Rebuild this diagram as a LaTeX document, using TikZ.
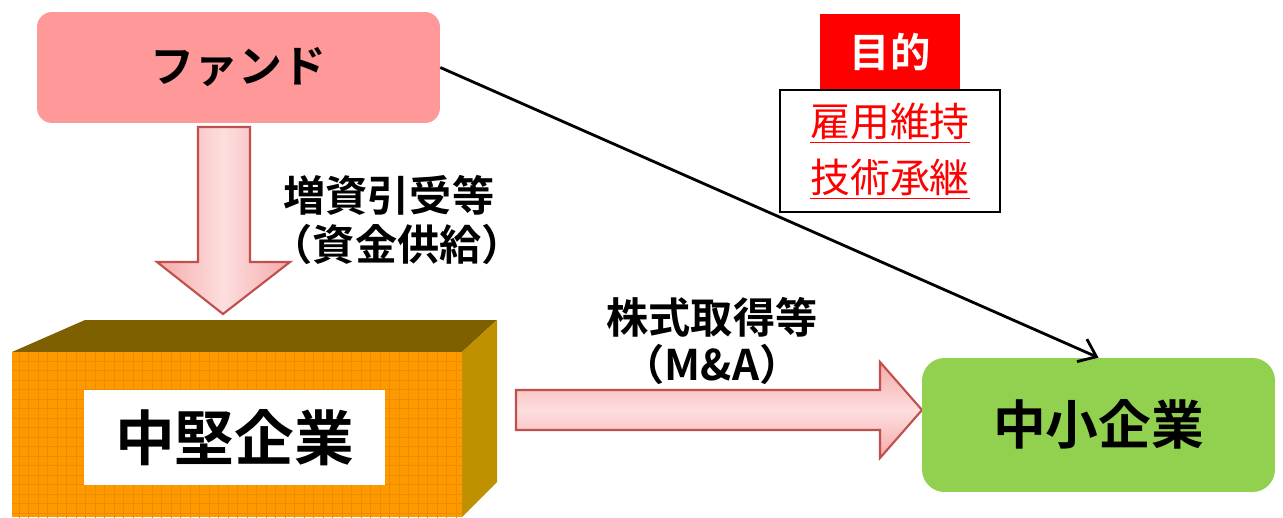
\documentclass[tikz,border=0pt]{standalone}
\usepackage{fontspec}
\setmainfont{Noto Sans CJK JP}[BoldFont={Noto Sans CJK JP Bold}]
\usetikzlibrary{arrows.meta}
\definecolor{fundpink}{RGB}{255,153,153}
\definecolor{arrowpink}{RGB}{246,170,170}
\definecolor{arrowlight}{RGB}{253,222,222}
\definecolor{arrowedge}{RGB}{192,80,77}
\definecolor{boxorange}{RGB}{255,153,0}
\definecolor{gridorange}{RGB}{238,140,0}
\definecolor{boxtop}{RGB}{127,96,0}
\definecolor{boxside}{RGB}{191,144,0}
\definecolor{smegreen}{RGB}{146,208,80}
\definecolor{purred}{RGB}{255,0,0}
\tikzset{
  fs/.style={font=\fontsize{#1}{#1}\selectfont\bfseries},
  blockarrow/.style={draw=arrowedge, line width=1.2pt, line join=miter},
}
\begin{document}
\begin{tikzpicture}[x=0.02cm,y=-0.02cm]
\useasboundingbox (0,0) rectangle (1283,517);
% fund
\node[fill=fundpink, rounded corners=0.3cm, minimum width=8.06cm, minimum height=2.22cm, fs=25] (fund) at (238.5,67.5) {ファンド};
% down arrow
\path[blockarrow, left color=arrowpink, right color=arrowpink, middle color=arrowlight]
  (198,127) -- (250,127) -- (250,262) -- (290,262) -- (223,314) -- (157,262) -- (198,262) -- cycle;
\node[fs=24, anchor=west, align=left, inner sep=0pt, text height=0.8em] (lab1) at (283,256) {増資引受等\\[4pt]\hspace*{-0.3em}（資金供給）};
% 3D box
\fill[boxtop] (12,352) -- (85,320) -- (497,320) -- (462,352) -- cycle;
\fill[boxside] (462,352) -- (497,320) -- (497,482) -- (462,517) -- cycle;
\fill[boxorange] (12,352) rectangle (462,517);
\begin{scope}
\clip (12,352) rectangle (462,517);
\draw[gridorange, line width=0.4pt, step=0.19cm] (0,340) grid (470,520);
\end{scope}
\node[fill=white, minimum width=6.02cm, minimum height=1.9cm, fs=34] (mid) at (234.5,437.5) {中堅企業};
% right arrow
\path[blockarrow, top color=arrowpink, bottom color=arrowpink, middle color=arrowlight]
  (516,390) -- (880,390) -- (880,362) -- (922,410) -- (880,458) -- (880,430) -- (516,430) -- cycle;
\node[fs=24, align=center, inner sep=0pt] (lab2) at (712,341) {株式取得等\\[3pt]（M\&A）};
% SME
\node[fill=smegreen, rounded corners=0.45cm, minimum width=7.06cm, minimum height=2.68cm, fs=30] (sme) at (1098.5,425) {\raisebox{3pt}{中小企業}};
% purpose
\node[fill=purred, text=white, minimum width=2.8cm, minimum height=1.52cm, fs=23] (pur) at (890,52) {目的};
\node[draw=black, line width=1.6pt, fill=white, minimum width=4.4cm, minimum height=2.44cm, text=purred, align=center, font=\fontsize{22.7}{32}\selectfont] (goal) at (890,151) {\raisebox{4pt}{\underline{雇用維持}}\\\raisebox{4pt}{\underline{技術承継}}};
% connector
\draw[line width=1.6pt, -{Straight Barb[length=9pt,width=14pt]}] (fund.east) -- (sme.north);
\end{tikzpicture}
\end{document}
